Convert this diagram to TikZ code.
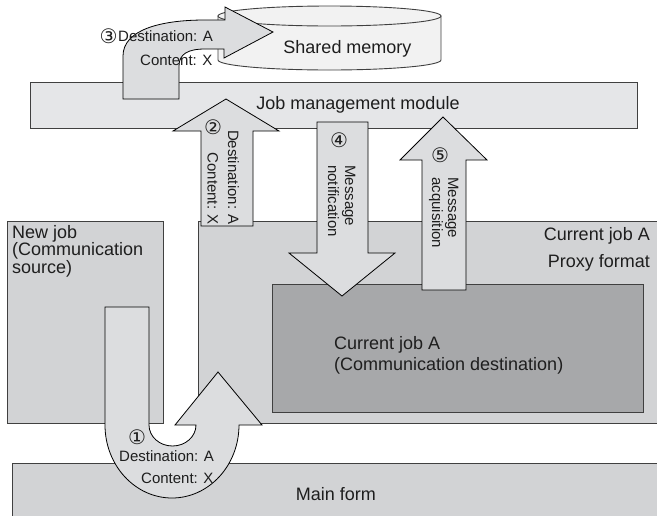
\documentclass[tikz,border=0pt]{standalone}
\usepackage{fontspec}
\setmainfont{Liberation Sans}
\newfontfamily\circfont{DejaVu Sans}
\definecolor{barfill}{HTML}{E5E6E8}
\definecolor{arrowfill}{HTML}{DCDDDF}
\definecolor{boxfill}{HTML}{D2D3D5}
\definecolor{darkfill}{HTML}{A7A8AA}
\definecolor{cylfill}{HTML}{F2F2F2}
\definecolor{boxline}{HTML}{404040}
\definecolor{textcol}{HTML}{1E1E1E}
\begin{document}
\begin{tikzpicture}[x=1pt,y=-1pt,
  box/.style={draw=boxline, line width=0.9pt},
  blockarrow/.style={draw=black, fill=arrowfill, line width=0.8pt, line join=miter},
  lbl/.style={inner sep=0pt, text=textcol, font=\fontsize{18}{18}\selectfont},
  small/.style={inner sep=0pt, text=textcol, font=\fontsize{15}{15}\selectfont},
  circ/.style={inner sep=0pt, text=textcol, font=\circfont\fontsize{20}{20}\selectfont}]
\useasboundingbox (0,0) rectangle (657,515);
\clip (0,0) rectangle (657,515);

% shared memory cylinder
\path[box, fill=cylfill] (218,16) -- (218,60)
  .. controls (218,65.5) and (267.9,70) .. (329.5,70)
  .. controls (391.1,70) and (441,65.5) .. (441,60) -- (441,16) -- cycle;
\draw[box, fill=cylfill] (329.5,16) ellipse [x radius=111.5pt, y radius=10pt];

% job management module bar
\draw[box, fill=barfill] (30,82) rectangle (637,128);

% job areas
\draw[box, fill=boxfill] (7,221) rectangle (163,423);
\draw[box, fill=boxfill] (198,221) rectangle (680,423);
\draw[box, fill=darkfill] (272,284) rectangle (643,412);
\draw[box, fill=boxfill] (12,463) rectangle (680,540);

% step 2: up to the job management module
\draw[blockarrow] (201,226) -- (201,131) -- (173,131) -- (226,99) -- (279,131)
  -- (253,131) -- (253,226) -- cycle;
% step 4: notification down to job A
\draw[blockarrow] (317,122) -- (368,122) -- (368,253) -- (395,253) -- (342,296)
  -- (289,253) -- (317,253) -- cycle;
% step 5: acquisition up from job A
\draw[blockarrow] (422,290) -- (422,160) -- (400,160) -- (443,117) -- (487,160)
  -- (466,160) -- (466,290) -- cycle;
% step 3: curved arrow into the shared memory
\draw[blockarrow] (123,99) -- (123,56)
  .. controls (123,30) and (160,20) .. (205,20) -- (225,20) -- (225,7)
  -- (273,32) -- (224,58) -- (224,49) -- (205,49)
  .. controls (188,49) and (179,54) .. (179,66) -- (179,99) -- cycle;
% step 1: U-turn arrow from the new job
\draw[blockarrow] (105,307) -- (105,425)
  .. controls (105,465.3) and (135,498) .. (172,498)
  .. controls (209,498) and (239,465.3) .. (239,425)
  -- (262,425) -- (218,372) -- (175,425) -- (196,425)
  .. controls (196,436.6) and (185.5,446) .. (172.5,446)
  .. controls (159.5,446) and (149,436.6) .. (149,425)
  -- (149,307) -- cycle;

% labels
\node[lbl, anchor=base] (jmm) at (358,109) {Job management module};
\node[lbl, anchor=base] (shm) at (347.5,53.5) {Shared memory};
\node[lbl, anchor=base] (mf) at (336,500.5) {Main form};
\node[lbl, anchor=base west] (nj1) at (12,238) {New job};
\node[lbl, anchor=base west] (nj2) at (12,255.5) {(Communication};
\node[lbl, anchor=base west] (nj3) at (12,273) {source)};
\node[lbl, anchor=base east] (cja) at (650,240.7) {Current job A};
\node[lbl, anchor=base east] (pxf) at (650,267.7) {Proxy format};
\node[lbl, anchor=base west] (cjd1) at (334,349.3) {Current job A};
\node[lbl, anchor=base west] (cjd2) at (334,370.7) {(Communication destination)};

% step 3 labels
\node[circ] (n3) at (108.5,36) {③};
\node[small, anchor=base west] (d3) at (118,41) {Destination: A};
\node[small, anchor=base west] (c3) at (140,65) {Content: X};

% step 2 labels
\node[circ] (n2) at (213,127.5) {②};
\node[small, rotate=-90, anchor=base east] (d2) at (228,225) {Destination: A};
\node[small, rotate=-90, anchor=base east] (c2) at (207.5,225) {Content: X};

% step 4 labels
\node[circ] (n4) at (339,140.5) {④};
\node[small, rotate=-90, anchor=base west] (m4a) at (345,165) {Message};
\node[small, rotate=-90, anchor=base west] (m4b) at (328,165) {notification};

% step 5 labels
\node[circ] (n5) at (440,155) {⑤};
\node[small, rotate=-90, anchor=base west] (m5a) at (448,177) {Message};
\node[small, rotate=-90, anchor=base west] (m5b) at (432,177) {acquisition};

% step 1 labels
\node[circ] (n1) at (137,437) {①};
\node[small, anchor=base west] (d1) at (119,461) {Destination: A};
\node[small, anchor=base west] (c1) at (141,483.3) {Content: X};
\end{tikzpicture}
\end{document}
